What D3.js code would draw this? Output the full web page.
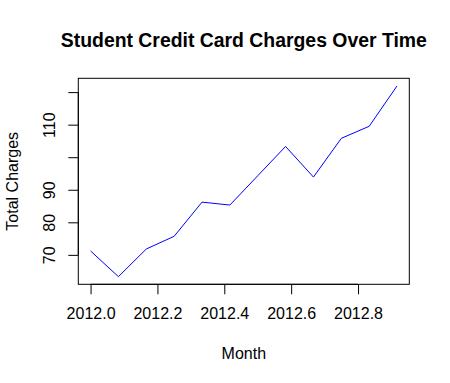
<!DOCTYPE html>
<html>
<head>
<meta charset="utf-8">
<script src="https://cdnjs.cloudflare.com/ajax/libs/d3/7.8.5/d3.min.js"></script>
<style>
  body { margin: 0; background: #fff; }
  svg text { font-family: "Liberation Sans", Arial, sans-serif; fill: #000; }
</style>
</head>
<body>
<div id="chart"></div>
<script>

// monthly charges, 2012 (x = 2012 + month/12)
var months = [2012.0, 2012 + 1/12, 2012 + 2/12, 2012 + 3/12, 2012 + 4/12, 2012 + 5/12,
              2012 + 6/12, 2012 + 7/12, 2012 + 8/12, 2012 + 9/12, 2012 + 10/12, 2012 + 11/12];
var charges = [71.2, 63.3, 71.8, 75.7, 86.2, 85.3, 94.3, 103.3, 93.9, 105.8, 109.5, 121.9];

var xTicks = [2012.0, 2012.2, 2012.4, 2012.6, 2012.8];
var yTicks = [70, 80, 90, 100, 110, 120];
var yLabelsShown = [70, 80, 90, 110];   // R drops the overlapping ones

var width = 450, height = 383;
var margin = {top: 78.3, right: 40.7, bottom: 98.7, left: 78.3};
var w = width - margin.left - margin.right,
    h = height - margin.top - margin.bottom;

var data = months.map(function(m, i) { return {month: m, value: charges[i]}; });

// R style 4% padding
var xr = d3.extent(months), yr = d3.extent(charges);
var xpad = (xr[1] - xr[0]) * 0.04, ypad = (yr[1] - yr[0]) * 0.04;

var x = d3.scaleLinear()
    .domain([xr[0] - xpad, xr[1] + xpad])
    .range([0, w]);

var y = d3.scaleLinear()
    .domain([yr[0] - ypad, yr[1] + ypad])
    .range([h, 0]);

var svg = d3.select("#chart").append("svg")
    .attr("width", width)
    .attr("height", height);

var g = svg.append("g")
    .attr("transform", "translate(" + margin.left + "," + margin.top + ")");

var line = d3.line()
    .x(function(d) { return x(d.month); })
    .y(function(d) { return y(d.value); });

g.append("path")
    .datum(data)
    .attr("fill", "none")
    .attr("stroke", "#0000ff")
    .attr("stroke-width", 1)
    .attr("d", line);

// box
g.append("rect")
    .attr("x", 0).attr("y", 0)
    .attr("width", w).attr("height", h)
    .attr("fill", "none")
    .attr("stroke", "#000")
    .attr("stroke-width", 1);

// x axis
var xAxis = g.append("g")
    .attr("transform", "translate(0," + h + ")")
    .call(d3.axisBottom(x).tickValues(xTicks).tickSize(10).tickPadding(13)
        .tickFormat(d3.format(".1f")));
xAxis.select(".domain")
    .attr("d", "M" + x(xTicks[0]) + ",0H" + x(xTicks[xTicks.length - 1]));
xAxis.selectAll("line").attr("stroke", "#000");
xAxis.selectAll("text").style("font-size", "16px").attr("fill", "#000");

// y axis
var yAxis = g.append("g")
    .call(d3.axisLeft(y).tickValues(yTicks).tickSize(10)
        .tickFormat(function(d) { return yLabelsShown.indexOf(d) >= 0 ? d : ""; }));
yAxis.select(".domain")
    .attr("d", "M0," + y(yTicks[0]) + "V" + y(yTicks[yTicks.length - 1]));
yAxis.selectAll("line").attr("stroke", "#000");
yAxis.selectAll("text")
    .style("font-size", "16px")
    .attr("fill", "#000")
    .attr("x", null).attr("dy", null)
    .attr("text-anchor", "middle")
    .attr("transform", "translate(-23,0) rotate(-90)");

// title + axis labels
svg.append("text")
    .attr("x", margin.left + w / 2)
    .attr("y", 47)
    .attr("text-anchor", "middle")
    .style("font-size", "19.4px")
    .style("font-weight", "bold")
    .text("Student Credit Card Charges Over Time");

svg.append("text")
    .attr("x", margin.left + w / 2)
    .attr("y", 359.3)
    .attr("text-anchor", "middle")
    .style("font-size", "16px")
    .text("Month");

svg.append("text")
    .attr("transform", "translate(18.3," + (margin.top + h / 2) + ") rotate(-90)")
    .attr("text-anchor", "middle")
    .style("font-size", "16px")
    .text("Total Charges");

</script>
</body>
</html>
